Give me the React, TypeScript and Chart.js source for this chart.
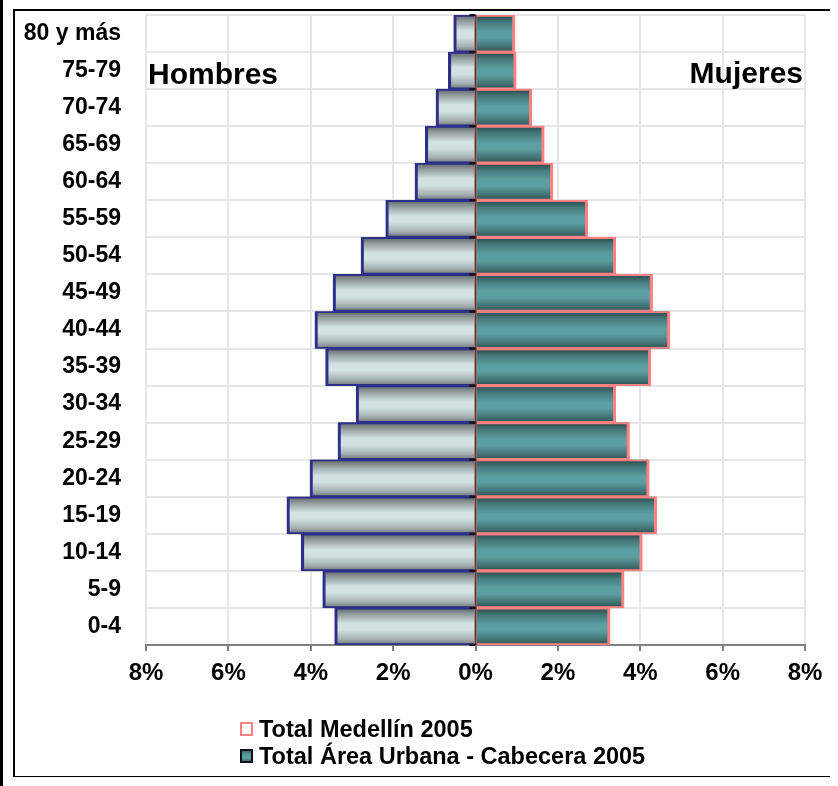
import React, { useEffect, useRef } from 'react';
import { Chart, registerables } from 'chart.js';

Chart.register(...registerables);

// ---------- data ----------
const ageGroups = [
  '0-4', '5-9', '10-14', '15-19', '20-24', '25-29', '30-34', '35-39', '40-44',
  '45-49', '50-54', '55-59', '60-64', '65-69', '70-74', '75-79', '80 y más',
];

// Mujeres (percent of total population)
const mujeresMedellin = [3.27, 3.61, 4.05, 4.40, 4.22, 3.74, 3.41, 4.26, 4.72, 4.30, 3.41, 2.73, 1.88, 1.67, 1.37, 0.99, 0.96];
const mujeresUrbana = [3.24, 3.58, 4.02, 4.37, 4.19, 3.71, 3.38, 4.23, 4.69, 4.27, 3.38, 2.70, 1.85, 1.64, 1.34, 0.96, 0.93];

// Hombres (negative so they extend to the left)
const hombresMedellin = [-3.42, -3.71, -4.23, -4.58, -4.02, -3.34, -2.90, -3.64, -3.90, -3.46, -2.78, -2.18, -1.47, -1.22, -0.96, -0.66, -0.53];
const hombresUrbana = [-3.40, -3.69, -4.21, -4.56, -4.00, -3.32, -2.88, -3.62, -3.88, -3.44, -2.76, -2.16, -1.45, -1.20, -0.94, -0.64, -0.51];

const xMin = -8;
const xMax = 8;
const xStep = 2;

const legendLabels = ['Total Medellín 2005', 'Total Área Urbana - Cabecera 2005'];
const sideLabels = ['Hombres', 'Mujeres'];

// ---------- styles ----------
const FONT = '"Liberation Sans", Arial, Helvetica, sans-serif';
const GREY_STOPS: [number, string][] = [
  [0, '#5d6566'],
  [0.15, '#8d9798'],
  [0.42, '#d2e1e2'],
  [0.6, '#d2e1e2'],
  [0.85, '#a3aeaf'],
  [1, '#6a7374'],
];
const TEAL_STOPS: [number, string][] = [
  [0, '#2a4749'],
  [0.2, '#457a7c'],
  [0.45, '#5c9ea1'],
  [0.62, '#5c9ea1'],
  [0.88, '#3f6d6f'],
  [1, '#2d5051'],
];

function barGradient(stops: [number, string][]) {
  return (c: any) => {
    const chart = c.chart;
    const y = chart.scales && chart.scales.y;
    if (!chart.chartArea || !y || c.dataIndex === undefined) return stops[2][1];
    const center = y.getPixelForValue(c.dataIndex);
    const half = Math.abs(y.getPixelForValue(1) - y.getPixelForValue(0)) / 2;
    const g = chart.ctx.createLinearGradient(0, center - half, 0, center + half);
    stops.forEach(([o, col]) => g.addColorStop(o, col));
    return g;
  };
}

const overlayPlugin = {
  id: 'overlay',
  afterDatasetsDraw(chart: any) {
    const { ctx, scales, chartArea } = chart;
    const x = scales.x;
    const y = scales.y;
    const x0 = x.getPixelForValue(0);
    const step = Math.abs(y.getPixelForValue(1) - y.getPixelForValue(0));
    ctx.save();
    // central axis line
    ctx.strokeStyle = '#6e2a2a';
    ctx.lineWidth = 2;
    ctx.beginPath();
    ctx.moveTo(x0, chartArea.top);
    ctx.lineTo(x0, chartArea.bottom);
    ctx.stroke();
    // tick marks of the vertical axis
    ctx.strokeStyle = '#151515';
    ctx.lineWidth = 2;
    for (let i = 0; i < ageGroups.length; i++) {
      const c = y.getPixelForValue(i);
      [c - step / 2, c + step / 2].forEach((yy) => {
        ctx.beginPath();
        ctx.moveTo(x0 - 6, yy);
        ctx.lineTo(x0, yy);
        ctx.stroke();
      });
    }
    ctx.restore();
  },
  afterDraw(chart: any) {
    const { ctx, chartArea } = chart;
    ctx.save();
    ctx.fillStyle = '#000';
    ctx.textBaseline = 'alphabetic';
    ctx.font = `bold 30px ${FONT}`;
    ctx.textAlign = 'left';
    ctx.fillText(sideLabels[0], chartArea.left + 2, 73);
    ctx.textAlign = 'right';
    ctx.fillText(sideLabels[1], chartArea.right - 2, 72);

    // legend
    const lx = 225;
    const rows = [711, 738];
    ctx.font = `bold 23.5px ${FONT}`;
    ctx.textAlign = 'left';
    // item 1: hollow pink square
    ctx.fillStyle = '#ffffff';
    ctx.fillRect(lx, rows[0], 13, 14);
    ctx.strokeStyle = '#ff8080';
    ctx.lineWidth = 2;
    ctx.strokeRect(lx + 1, rows[0] + 1, 11, 12);
    // item 2: teal square with dark border
    const g = ctx.createLinearGradient(0, rows[1], 0, rows[1] + 14);
    TEAL_STOPS.forEach(([o, col]) => g.addColorStop(o, col));
    ctx.fillStyle = g;
    ctx.fillRect(lx, rows[1], 13, 14);
    ctx.strokeStyle = '#111';
    ctx.lineWidth = 2;
    ctx.strokeRect(lx + 1, rows[1] + 1, 11, 12);
    ctx.fillStyle = '#000';
    ctx.fillText(legendLabels[0], lx + 19, rows[0] + 15);
    ctx.fillText(legendLabels[1], lx + 19, rows[1] + 15);
    ctx.restore();
  },
};

export default function App() {
  const ref = useRef<HTMLCanvasElement | null>(null);

  useEffect(() => {
    if (!ref.current) return;
    const chart = new Chart(ref.current, {
      type: 'bar',
      data: {
        labels: ageGroups,
        datasets: [
          {
            label: legendLabels[0] + ' (Mujeres)',
            data: mujeresMedellin,
            backgroundColor: 'rgba(0,0,0,0)',
            borderColor: '#ff8080',
            borderWidth: { top: 1.3, bottom: 1.3, right: 2.5, left: 0 },
            borderSkipped: 'start',
            grouped: false,
          } as any,
          {
            label: legendLabels[0] + ' (Hombres)',
            data: hombresMedellin,
            backgroundColor: 'rgba(0,0,0,0)',
            borderColor: '#2e2f8a',
            borderWidth: { top: 1.3, bottom: 1.3, left: 2.5, right: 0 },
            borderSkipped: 'start',
            grouped: false,
          } as any,
          {
            label: legendLabels[1] + ' (Mujeres)',
            data: mujeresUrbana,
            backgroundColor: barGradient(TEAL_STOPS),
            borderColor: '#3a4546',
            borderWidth: 1,
            borderSkipped: 'start',
            grouped: false,
          } as any,
          {
            label: legendLabels[1] + ' (Hombres)',
            data: hombresUrbana,
            backgroundColor: barGradient(GREY_STOPS),
            borderColor: '#3a3d70',
            borderWidth: 1,
            borderSkipped: 'start',
            grouped: false,
          } as any,
        ],
      },
      options: {
        indexAxis: 'y',
        responsive: false,
        animation: false,
        layout: { padding: { top: 4, right: 29, left: 0, bottom: 0 } },
        datasets: { bar: { categoryPercentage: 1, barPercentage: 1 } },
        plugins: {
          legend: { display: false },
          tooltip: { enabled: false },
        },
        scales: {
          x: {
            type: 'linear',
            min: xMin,
            max: xMax,
            ticks: {
              stepSize: xStep,
              color: '#000',
              padding: 8,
              font: { family: FONT, size: 24, weight: 'bold' },
              callback: (v: any) => Math.abs(Number(v)) + '%',
            },
            grid: {
              color: '#e6e6e6',
              lineWidth: 2,
              tickColor: '#808080',
              tickLength: 6,
              tickWidth: 2,
            },
            border: { display: true, color: '#808080', width: 2 },
            afterFit: (s: any) => { s.height = 131; s.paddingLeft = 0; s.paddingRight = 0; },
          },
          y: {
            type: 'category',
            reverse: true,
            ticks: {
              color: '#000',
              padding: 25,
              autoSkip: false,
              font: { family: FONT, size: 23, weight: 'bold' },
            },
            grid: {
              color: '#e6e6e6',
              lineWidth: 2,
              offset: true,
              drawTicks: false,
            },
            border: { display: false },
            afterFit: (s: any) => { s.width = 131; s.paddingTop = 0; s.paddingBottom = 0; },
          },
        },
      } as any,
      plugins: [overlayPlugin],
    });
    return () => chart.destroy();
  }, []);

  return (
    <>
      <div style={{ position: 'fixed', left: 0, top: 0, width: 3, height: '100%', background: '#000' }} />
      <div
        style={{
          position: 'relative',
          left: 5,
          top: 1,
          width: 819,
          height: 765,
          border: '2px solid #000',
          background: '#fff',
        }}
      >
        <canvas ref={ref} width={819} height={765} style={{ display: 'block' }} />
      </div>
    </>
  );
}
